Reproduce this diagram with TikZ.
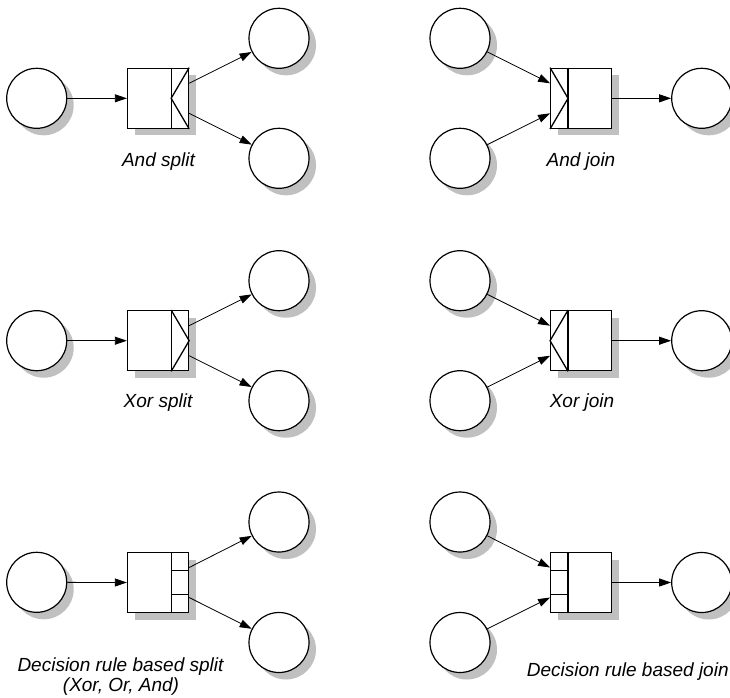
\documentclass[tikz,border=0pt]{standalone}
\usepackage{fontspec}
\setmainfont{Liberation Sans}
\usetikzlibrary{arrows.meta,shadows}
\definecolor{shadowgray}{RGB}{192,192,192}
\tikzset{
  shad/.style={general shadow={shadow xshift=7pt, shadow yshift=-7pt, fill=shadowgray, opacity=1}},
  place/.style={circle, draw, line width=1.2pt, fill=white, minimum size=60pt, inner sep=0pt, shad},
  gatebox/.style={rectangle, draw, line width=1.3pt, fill=white, minimum width=61pt, minimum height=60pt, inner sep=0pt, shad},
  inner/.style={line width=1.3pt},
  arr/.style={-{Triangle[length=12pt,width=8pt]}, line width=0.8pt},
  lab/.style={font=\fontsize{19}{21}\selectfont\itshape, inner sep=0pt, anchor=base}
}
\begin{document}
\begin{tikzpicture}[x=1pt,y=-1pt]
\useasboundingbox (0,0) rectangle (730,697);

% ---------- Row 1 ----------
% And split
\node[place] (s1in) at (36.7,98.3) {};
\node[place] (s1a) at (279,38.3) {};
\node[place] (s1b) at (279,158.3) {};
\node[gatebox] (s1) at (158,98.3) {};
\draw[inner] ([xshift=-18pt]s1.north east) -- ([xshift=-18pt]s1.south east);
\draw[inner] (s1.north east) -- ([xshift=-18pt]s1.east) -- (s1.south east);
\draw[arr] (s1in) -- (s1.west);
\draw[arr] ([yshift=15pt]s1.east) -- (s1a);
\draw[arr] ([yshift=-15pt]s1.east) -- (s1b);
\node[lab] (l1) at (158.5,166.5) {And split};

% And join
\node[place] (j1a) at (460,38.3) {};
\node[place] (j1b) at (460,158.3) {};
\node[place] (j1out) at (701.7,98.3) {};
\node[gatebox] (j1) at (581.2,98.3) {};
\draw[inner] ([xshift=18pt]j1.north west) -- ([xshift=18pt]j1.south west);
\draw[inner] (j1.north west) -- ([xshift=18pt]j1.west) -- (j1.south west);
\draw[arr] (j1a) -- ([yshift=15pt]j1.west);
\draw[arr] (j1b) -- ([yshift=-15pt]j1.west);
\draw[arr] (j1.east) -- (j1out);
\node[lab] (l2) at (581,166.5) {And join};

% ---------- Row 2 ----------
% Xor split
\node[place] (s2in) at (36.7,340.7) {};
\node[place] (s2a) at (279,280.7) {};
\node[place] (s2b) at (279,400.7) {};
\node[gatebox] (s2) at (158,340.7) {};
\draw[inner] ([xshift=-18pt]s2.north east) -- ([xshift=-18pt]s2.south east);
\draw[inner] ([xshift=-18pt]s2.north east) -- (s2.east) -- ([xshift=-18pt]s2.south east);
\draw[arr] (s2in) -- (s2.west);
\draw[arr] ([yshift=15pt]s2.east) -- (s2a);
\draw[arr] ([yshift=-15pt]s2.east) -- (s2b);
\node[lab] (l3) at (158,407) {Xor split};

% Xor join
\node[place] (j2a) at (460,280.7) {};
\node[place] (j2b) at (460,400.7) {};
\node[place] (j2out) at (701.7,340.7) {};
\node[gatebox] (j2) at (581.2,340.7) {};
\draw[inner] ([xshift=18pt]j2.north west) -- ([xshift=18pt]j2.south west);
\draw[inner] ([xshift=18pt]j2.north west) -- (j2.west) -- ([xshift=18pt]j2.south west);
\draw[arr] (j2a) -- ([yshift=15pt]j2.west);
\draw[arr] (j2b) -- ([yshift=-15pt]j2.west);
\draw[arr] (j2.east) -- (j2out);
\node[lab] (l4) at (582,407) {Xor join};

% ---------- Row 3 ----------
% Decision rule based split
\node[place] (s3in) at (36.7,582.3) {};
\node[place] (s3a) at (279,522) {};
\node[place] (s3b) at (279,642.5) {};
\node[gatebox] (s3) at (158,582.5) {};
\draw[inner] ([xshift=-18pt]s3.north east) -- ([xshift=-18pt]s3.south east);
\draw[inner] ([xshift=-18pt,yshift=12pt]s3.east) -- ([yshift=12pt]s3.east);
\draw[inner] ([xshift=-18pt,yshift=-12pt]s3.east) -- ([yshift=-12pt]s3.east);
\draw[arr] (s3in) -- (s3.west);
\draw[arr] ([yshift=15pt]s3.east) -- (s3a);
\draw[arr] ([yshift=-15pt]s3.east) -- (s3b);
\node[lab] (l5) at (120.5,671.7) {Decision rule based split};
\node[lab] (l6) at (121,691.5) {(Xor, Or, And)};

% Decision rule based join
\node[place] (j3a) at (460,522) {};
\node[place] (j3b) at (460,642.5) {};
\node[place] (j3out) at (701.7,582.5) {};
\node[gatebox] (j3) at (581.2,582.5) {};
\draw[inner] ([xshift=18pt]j3.north west) -- ([xshift=18pt]j3.south west);
\draw[inner] ([yshift=12pt]j3.west) -- ([xshift=18pt,yshift=12pt]j3.west);
\draw[inner] ([yshift=-12pt]j3.west) -- ([xshift=18pt,yshift=-12pt]j3.west);
\draw[arr] (j3a) -- ([yshift=15pt]j3.west);
\draw[arr] (j3b) -- ([yshift=-15pt]j3.west);
\draw[arr] (j3.east) -- (j3out);
\node[lab, anchor=base west] (l7) at (526.7,676) {Decision rule based join};
\end{tikzpicture}
\end{document}
